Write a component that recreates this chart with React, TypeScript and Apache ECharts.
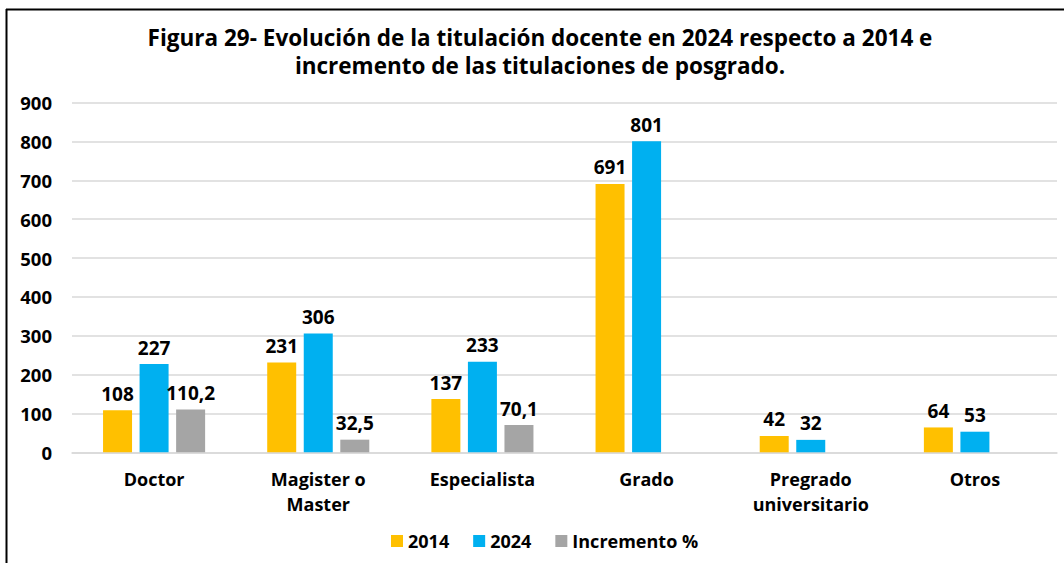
import React, { useEffect, useRef } from "react";
import * as echarts from "echarts";

const categories = ["Doctor", "Magister o\nMaster", "Especialista", "Grado", "Pregrado\nuniversitario", "Otros"];
const values2014 = [108, 231, 137, 691, 42, 64];
const values2024 = [227, 306, 233, 801, 32, 53];
const incremento: (number | null)[] = [110.2, 32.5, 70.1, null, null, null];
const yTicks = { min: 0, max: 900, interval: 100 };

const FONT = "'Open Sans', sans-serif";

export default function App() {
  const ref = useRef<HTMLDivElement>(null);
  useEffect(() => {
    if (!ref.current) return;
    const chart = echarts.init(ref.current, undefined, { renderer: "svg" });
    const label = {
      show: true,
      position: "top" as const,
      distance: 7,
      fontFamily: FONT,
      fontWeight: "bold" as const,
      fontSize: 19,
      color: "#000",
      formatter: (p: any) => (p.value == null ? "" : String(p.value).replace(".", ",")),
    };
    chart.setOption({
      animation: false,
      backgroundColor: "#fff",
      textStyle: { fontFamily: FONT },
      title: {
        text: "Figura 29- Evolución de la titulación docente en 2024 respecto a 2014 e\nincremento de las titulaciones de posgrado.",
        left: 535,
        textAlign: "center",
        top: 18,
        textStyle: { fontFamily: FONT, fontWeight: "bold", fontSize: 22.5, lineHeight: 28, color: "#000" },
      },
      graphic: [
        { type: "line", shape: { x1: 6.5, y1: 9, x2: 6.5, y2: 563 }, style: { stroke: "#000", lineWidth: 2 } },
        { type: "line", shape: { x1: 6, y1: 9.5, x2: 1064, y2: 9.5 }, style: { stroke: "#000", lineWidth: 2 } },
      ],
      legend: {
        bottom: 8,
        left: 386,
        itemWidth: 12,
        itemHeight: 12,
        itemGap: 24,
        icon: "rect",
        textStyle: { fontFamily: FONT, fontWeight: "bold", fontSize: 18, color: "#000" },
        data: ["2014", "2024", "Incremento %"],
      },
      grid: { left: 72, right: 7, top: 102.7, bottom: 110.7, containLabel: false },
      xAxis: {
        type: "category",
        data: categories,
        axisLine: { lineStyle: { color: "#d9d9d9", width: 1.5 } },
        axisTick: { show: false },
        axisLabel: {
          fontFamily: FONT,
          fontWeight: "bold",
          fontSize: 18,
          lineHeight: 25,
          color: "#000",
          margin: 14,
          interval: 0,
        },
      },
      yAxis: {
        type: "value",
        min: yTicks.min,
        max: yTicks.max,
        interval: yTicks.interval,
        axisLine: { show: false },
        axisTick: { show: false },
        splitLine: { lineStyle: { color: "#d9d9d9", width: 1.5 } },
        axisLabel: { fontFamily: FONT, fontWeight: "bold", fontSize: 18.5, color: "#000", margin: 20 },
      },
      series: [
        { name: "2014", type: "bar", data: values2014, itemStyle: { color: "#FFC000" }, barWidth: 29, barGap: "26%", label },
        { name: "2024", type: "bar", data: values2024, itemStyle: { color: "#00B0F0" }, barWidth: 29, barGap: "26%", label },
        { name: "Incremento %", type: "bar", data: incremento, itemStyle: { color: "#A5A5A5" }, barWidth: 29, barGap: "26%", label },
      ],
    });
    return () => chart.dispose();
  }, []);
  return <div ref={ref} style={{ position: "fixed", left: 0, top: 0, width: 1064, height: 563 }} />;
}
